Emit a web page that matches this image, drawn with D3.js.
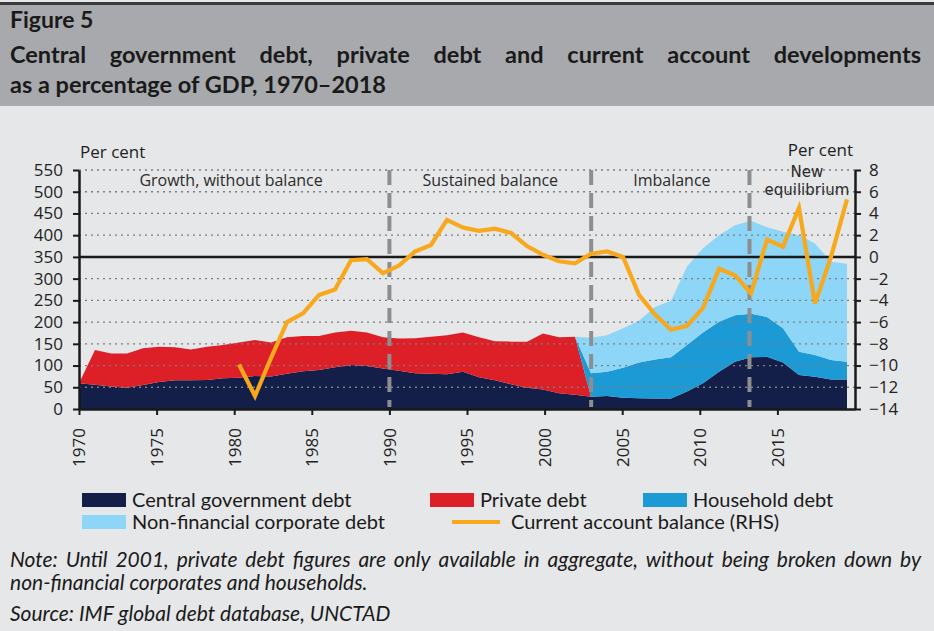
<!DOCTYPE html>
<html>
<head>
<meta charset="utf-8">
<script src="https://cdn.jsdelivr.net/npm/d3@7"></script>
<style>
body { margin: 0; background: #e6e7e8; }
svg { display: block; }
</style>
</head>
<body>
<script>
// years of the debt / current account series
var years = [1970, 1971, 1972, 1973, 1974, 1975, 1976, 1977, 1978, 1979,
             1980, 1981, 1982, 1983, 1984, 1985, 1986, 1987, 1988, 1989,
             1990, 1991, 1992, 1993, 1994, 1995, 1996, 1997, 1998, 1999,
             2000, 2001, 2002, 2003, 2004, 2005, 2006, 2007, 2008, 2009,
             2010, 2011, 2012, 2013, 2014, 2015, 2016, 2017, 2018];

// % of GDP, 1970-2018
var centralGov = [59, 56, 52, 49, 55, 62, 66, 66, 67, 71,
                  72, 76, 75, 81, 87, 90, 96, 101, 99, 93,
                  88, 82, 81, 80, 86, 73, 66, 57, 49, 45,
                  36, 33, 28, 30, 26, 25, 24, 24, 40, 59,
                  86, 109, 119, 120, 107, 78, 74, 68, 68];

// aggregate private debt, 1970-2001 (not broken down)
var privateDebt = [0, 80, 76, 79, 85, 81, 76, 71, 76, 76,
                   81, 83, 78, 84, 81, 78, 80, 79, 77, 72,
                   74, 81, 85, 90, 90, 92, 90, 98, 106, 129,
                   129, 133];

// breakdown from 2002 on
var breakdownStart = 2002;
var householdDebt = [54, 56, 69, 82, 90, 95, 107, 117, 115, 107, 100, 92, 79, 54, 50, 45, 41];
var corporateDebt = [82, 84, 91, 96, 121, 130, 181, 194, 199, 207, 214, 206, 222, 268, 257, 226, 225];

// current account balance, % of GDP (RHS), 1980-2018
var caStart = 1980;
var currentAccount = [-9.9, -12.8, -9.3, -6.0, -5.2, -3.5, -3.0, -0.3, -0.2, -1.5,
                      -0.8, 0.5, 1.1, 3.4, 2.7, 2.4, 2.6, 2.2, 1.0, 0.2,
                      -0.4, -0.6, 0.3, 0.5, 0.0, -3.5, -5.3, -6.7, -6.35, -4.7,
                      -1.1, -1.7, -3.35, 1.6, 0.95, 4.5, -4.3, 0.0, 5.3];

var leftTicks = [0, 50, 100, 150, 200, 250, 300, 350, 400, 450, 500, 550];
var rightTicks = [-14, -12, -10, -8, -6, -4, -2, 0, 2, 4, 6, 8];
var xTicks = [1970, 1975, 1980, 1985, 1990, 1995, 2000, 2005, 2010, 2015];

var periods = [
  {label: ["Growth, without balance"], at: 1979.8},
  {label: ["Sustained balance"], at: 1996.5},
  {label: ["Imbalance"], at: 2008.2},
  {label: ["New", "equilibrium"], at: 2016.9}
];
var periodBreaks = [1990, 2003, 2013.2];

var keys = ["central", "private", "household", "corporate"];
var colors = {central: "#131f48", private: "#dd1f27", household: "#1b9ad6", corporate: "#8ed6f7"};
var orange = "#f7a81c";

var width = 934, height = 631;
var plot = {left: 79, right: 855, top: 170, bottom: 409};

var svg = d3.select("body").append("svg")
    .attr("width", width)
    .attr("height", height);

svg.append("rect").attr("width", width).attr("height", height).attr("fill", "#e6e7e8");

// header band
svg.append("rect").attr("x", 0).attr("y", 5).attr("width", width).attr("height", 101).attr("fill", "#a7a9ac");
svg.append("rect").attr("x", 0).attr("y", 2).attr("width", width).attr("height", 3).attr("fill", "#3a3a3a");

function justify(g, text, x0, x1, y, font) {
  var words = text.split(" ");
  var nodes = words.map(function(w) {
    return g.append("text").attr("y", y).style("font", font).attr("fill", "#1a1a1a").text(w);
  });
  var widths = nodes.map(function(n) { return n.node().getComputedTextLength(); });
  var gap = (x1 - x0 - d3.sum(widths)) / (words.length - 1);
  var x = x0;
  nodes.forEach(function(n, i) { n.attr("x", x); x += widths[i] + gap; });
}

var titleFont = "bold 23.5px Lato";
svg.append("text").attr("x", 10).attr("y", 28).style("font", "bold 23px Lato").attr("fill", "#1a1a1a").text("Figure 5");
justify(svg, "Central government debt, private debt and current account developments", 10, 921, 63, titleFont);
svg.append("text").attr("x", 10).attr("y", 93).style("font", titleFont).attr("fill", "#1a1a1a")
    .text("as a percentage of GDP, 1970\u20132018");

// scales
var xData = d3.scaleLinear().domain([1970, 2018]).range([plot.left, 847]);
var xAxisScale = d3.scaleLinear().domain([1970, 2020]).range([plot.left, plot.right]);
var yL = d3.scaleLinear().domain([0, 550]).range([plot.bottom, plot.top]);
var yR = d3.scaleLinear().domain([-14, 8]).range([plot.bottom, plot.top]);

var table = years.map(function(yr, i) {
  var j = yr - breakdownStart;
  return {
    year: yr,
    central: centralGov[i],
    private: i < privateDebt.length ? privateDebt[i] : 0,
    household: j >= 0 ? householdDebt[j] : 0,
    corporate: j >= 0 ? corporateDebt[j] : 0
  };
});

var series = d3.stack().keys(keys)(table);

var area = d3.area()
    .x(function(d) { return xData(d.data.year); })
    .y0(function(d) { return yL(d[0]); })
    .y1(function(d) { return yL(d[1]); });

svg.append("g").selectAll("path")
    .data(series)
  .enter().append("path")
    .attr("d", area)
    .attr("fill", function(d) { return colors[d.key]; });

// dotted grid
svg.append("g").selectAll("line")
    .data(leftTicks.filter(function(v) { return v > 0 && v !== 350; }))
  .enter().append("line")
    .attr("x1", plot.left).attr("x2", plot.right)
    .attr("y1", function(d) { return yL(d); })
    .attr("y2", function(d) { return yL(d); })
    .attr("stroke", "#7d7d7d")
    .attr("stroke-width", 1.3)
    .attr("stroke-dasharray", "2,4");

// period dividers
svg.append("g").selectAll("line")
    .data(periodBreaks)
  .enter().append("line")
    .attr("x1", function(d) { return xAxisScale(d); })
    .attr("x2", function(d) { return xAxisScale(d); })
    .attr("y1", plot.top).attr("y2", plot.bottom - 2)
    .attr("stroke", "#8d8e90")
    .attr("stroke-width", 4)
    .attr("stroke-dasharray", "15,8");

// zero line of the current account
svg.append("line")
    .attr("x1", plot.left).attr("x2", plot.right)
    .attr("y1", yR(0)).attr("y2", yR(0))
    .attr("stroke", "#1a1a1a").attr("stroke-width", 2.5);

var caLine = d3.line()
    .x(function(d, i) { return xData(caStart + i); })
    .y(function(d) { return yR(d); });

svg.append("path")
    .datum(currentAccount)
    .attr("d", caLine)
    .attr("fill", "none")
    .attr("stroke", orange)
    .attr("stroke-width", 4.2);

// period labels (two-line label wrapped in one text)
periods.forEach(function(p) {
  var two = p.label.length > 1;
  var t = svg.append("text")
      .attr("x", xAxisScale(p.at))
      .attr("y", two ? 177 : 186)
      .attr("text-anchor", "middle")
      .style("font", two ? "15px 'DejaVu Sans'" : "16px 'Open Sans'")
      .attr("fill", "#2b2b2b");
  p.label.forEach(function(s, k) {
    t.append("tspan")
        .attr("x", xAxisScale(p.at))
        .attr("dy", k === 0 ? 0 : 17.5)
        .text(s);
  });
});

// axes
var tickFont = "17px 'Open Sans'";

function styleAxis(g) {
  g.select(".domain").attr("stroke", "#1a1a1a").attr("stroke-width", 2.5);
  g.selectAll(".tick line").attr("stroke", "#1a1a1a").attr("stroke-width", 2);
  g.selectAll("text").style("font", tickFont).attr("fill", "#222");
}

svg.append("g")
    .attr("transform", "translate(" + plot.left + ",0)")
    .call(d3.axisLeft(yL).tickValues(leftTicks).tickSize(6).tickSizeOuter(0).tickPadding(10))
    .call(styleAxis);

svg.append("g")
    .attr("transform", "translate(" + plot.right + ",0)")
    .call(d3.axisRight(yR).tickValues(rightTicks).tickSize(6).tickSizeOuter(0).tickPadding(8))
    .call(styleAxis);

svg.append("g")
    .attr("transform", "translate(0," + plot.bottom + ")")
    .call(d3.axisBottom(xAxisScale).tickValues(xTicks).tickFormat(d3.format("d")).tickSize(6).tickSizeOuter(0))
    .call(styleAxis)
  .selectAll("text")
    .attr("transform", "rotate(-90)")
    .attr("text-anchor", "end")
    .attr("x", -19)
    .attr("y", 0)
    .attr("dy", "0.35em");

svg.append("text").attr("x", 80).attr("y", 158).style("font", "17px 'Open Sans'").attr("fill", "#222").text("Per cent");
svg.append("text").attr("x", 853).attr("y", 156).attr("text-anchor", "end").style("font", "17px 'Open Sans'").attr("fill", "#222").text("Per cent");

// legend
var legendFont = "20px Lato";
var legendItems = [
  {label: "Central government debt", color: colors.central, x: 82, row: 0},
  {label: "Private debt", color: colors.private, x: 430, row: 0},
  {label: "Household debt", color: colors.household, x: 643, row: 0},
  {label: "Non-financial corporate debt", color: colors.corporate, x: 82, row: 1}
];
legendItems.forEach(function(d) {
  var cy = 500 + d.row * 22;
  svg.append("rect").attr("x", d.x).attr("y", cy - 7).attr("width", 44).attr("height", 14).attr("fill", d.color);
  svg.append("text").attr("x", d.x + 50).attr("y", cy + 7).style("font", legendFont).attr("fill", "#1a1a1a").text(d.label);
});
svg.append("line").attr("x1", 452).attr("x2", 500).attr("y1", 522).attr("y2", 522)
    .attr("stroke", orange).attr("stroke-width", 4);
svg.append("text").attr("x", 511).attr("y", 529).style("font", legendFont).attr("fill", "#1a1a1a")
    .text("Current account balance (RHS)");

// notes
var noteFont = "italic 21px Lato";
justify(svg, "Note: Until 2001, private debt figures are only available in aggregate, without being broken down by", 10, 921, 567, noteFont);
svg.append("text").attr("x", 10).attr("y", 590).style("font", noteFont).attr("fill", "#1a1a1a")
    .text("non-financial corporates and households.");
svg.append("text").attr("x", 10).attr("y", 621).style("font", noteFont).attr("fill", "#1a1a1a")
    .text("Source: IMF global debt database, UNCTAD");
</script>
</body>
</html>
